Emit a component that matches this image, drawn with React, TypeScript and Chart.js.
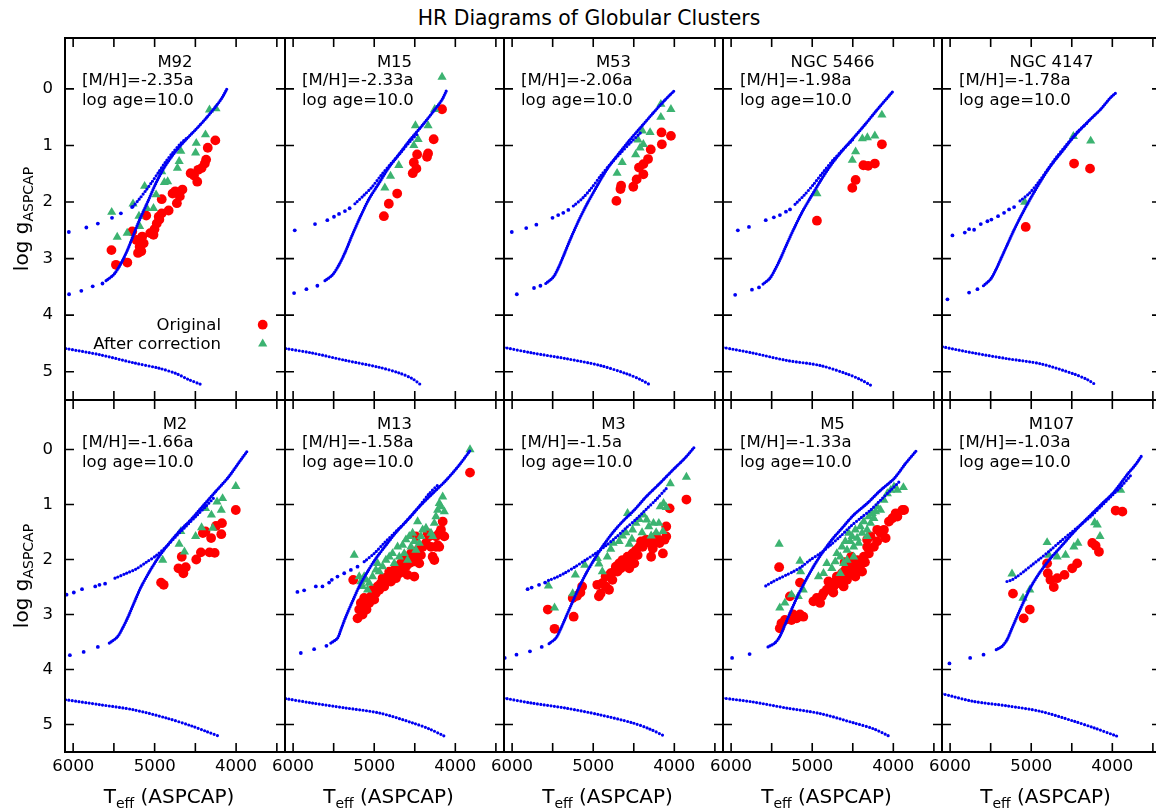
import React, { useEffect, useRef } from "react";
import { Chart, registerables } from "chart.js";

Chart.register(...registerables);

const FONT = "'DejaVu Sans', 'Liberation Sans', sans-serif";
const BLUE = "#0000f2";
const RED = "#ff0000";
const GREEN = "#3cb371";

const X_MIN = 3400;
const X_MAX = 6100;
const Y_MIN = -0.9;
const Y_MAX = 5.5;
const X_TICK_MARKS = [6000, 5500, 5000, 4500, 4000, 3500];
const X_TICK_LABELS = [6000, 5000, 4000];
const Y_TICK_MARKS = [0, 1, 2, 3, 4, 5];

const PAGE_TITLE = "HR Diagrams of Globular Clusters";
const CLUSTERS = ["M92", "M15", "M53", "NGC 5466", "NGC 4147", "M2", "M13", "M3", "M5", "M107"];
const METALLICITY = ["-2.35a", "-2.33a", "-2.06a", "-1.98a", "-1.78a", "-1.66a", "-1.58a", "-1.5a", "-1.33a", "-1.03a"];
const LOG_AGE = ["10.0", "10.0", "10.0", "10.0", "10.0", "10.0", "10.0", "10.0", "10.0", "10.0"];
const LEGEND_LABELS = ["Original", "After correction"];

type Pt = [number, number];

// ---------- M92 ----------
const M92_MS: Pt[] = [[6090, 4.59], [5670, 4.70], [5265, 4.84], [4940, 4.94], [4740, 5.03], [4580, 5.14], [4440, 5.22]];
const M92_SGB: Pt[] = [[6050, 3.63], [5900, 3.57], [5760, 3.49], [5640, 3.44]];
const M92_RGB: Pt[] = [[5596, 3.39], [5507, 3.29], [5447, 3.17], [5386, 3.01], [5325, 2.82], [5265, 2.60], [5184, 2.31], [5083, 1.99], [4982, 1.66], [4873, 1.37], [4740, 1.10], [4618, 0.90], [4497, 0.72], [4376, 0.53], [4255, 0.32], [4174, 0.16], [4113, 0.0]];
const M92_HB: Pt[] = [[6053, 2.53], [5838, 2.45], [5697, 2.38], [5523, 2.28], [5414, 2.20], [5277, 2.09]];
const M92_AGB: Pt[] = [[5265, 2.08], [5190, 1.95], [5110, 1.80], [5030, 1.64], [4950, 1.47], [4870, 1.30], [4780, 1.13], [4690, 0.98], [4600, 0.86]];
const M92_RED: Pt[] = [[5530, 2.85], [5475, 3.11], [5335, 3.07], [5275, 2.52], [5224, 2.67], [5184, 2.79], [5204, 2.90], [5164, 2.87], [5135, 2.73], [5152, 2.61], [5103, 2.24], [5055, 2.55], [5014, 2.58], [5002, 2.48], [4974, 2.38], [4942, 2.31], [4913, 2.20], [4950, 2.26], [4913, 1.95], [4828, 2.15], [4780, 1.85], [4748, 1.81], [4727, 2.02], [4691, 1.90], [4659, 1.78], [4558, 1.49], [4517, 1.53], [4477, 1.64], [4465, 1.43], [4424, 1.40], [4384, 1.32], [4368, 1.25], [4348, 1.04], [4255, 0.91]];
const M92_GREEN: Pt[] = [[5527, 2.18], [5459, 2.62], [5337, 2.55], [5265, 2.03], [5123, 1.72], [5192, 2.25], [5184, 2.43], [5095, 2.11], [5014, 2.11], [4982, 1.87], [4913, 1.46], [4881, 1.65], [4840, 1.64], [4720, 1.40], [4699, 1.28], [4679, 1.10], [4497, 1.13], [4489, 0.96], [4376, 0.81], [4327, 0.37], [4247, 0.35]];

// ---------- M15 ----------
const M15_MS: Pt[] = [[6090, 4.59], [5762, 4.67], [5353, 4.80], [4943, 4.92], [4697, 5.02], [4533, 5.12], [4418, 5.24]];
const M15_SGB: Pt[] = [[5988, 3.61], [5836, 3.54], [5701, 3.48]];
const M15_RGB: Pt[] = [[5607, 3.39], [5516, 3.29], [5434, 3.11], [5353, 2.87], [5270, 2.58], [5168, 2.25], [5066, 1.95], [4943, 1.67], [4820, 1.39], [4697, 1.16], [4553, 0.89], [4410, 0.65], [4267, 0.39], [4164, 0.19], [4103, 0.01]];
const M15_HB: Pt[] = [[5980, 2.50], [5730, 2.39], [5578, 2.32], [5496, 2.26], [5434, 2.21], [5361, 2.16], [5303, 2.11]];
const M15_AGB: Pt[] = [[5238, 2.03], [5127, 1.88], [5025, 1.73], [4922, 1.54], [4799, 1.33], [4676, 1.13], [4553, 0.92], [4451, 0.77]];
const M15_RED: Pt[] = [[4881, 2.25], [4820, 2.03], [4717, 1.85], [4525, 1.49], [4512, 1.30], [4471, 1.16], [4480, 1.41], [4349, 1.20], [4336, 1.14], [4267, 0.89], [4164, 0.36]];
const M15_GREEN: Pt[] = [[4869, 1.75], [4799, 1.54], [4697, 1.35], [4512, 1.00], [4492, 0.65], [4459, 0.89], [4336, 0.65], [4164, -0.21], [4254, 0.36]];

// ---------- M53 ----------
const M53_MS: Pt[] = [[6100, 4.57], [5743, 4.67], [5328, 4.77], [4913, 4.89], [4581, 5.04], [4415, 5.14], [4291, 5.24]];
const M53_SGB: Pt[] = [[5942, 3.63], [5730, 3.52], [5651, 3.48]];
const M53_RGB: Pt[] = [[5585, 3.44], [5494, 3.33], [5432, 3.17], [5369, 2.96], [5286, 2.67], [5183, 2.34], [5079, 2.04], [4954, 1.72], [4830, 1.42], [4705, 1.18], [4560, 0.92], [4415, 0.68], [4270, 0.44], [4125, 0.21], [4000, 0.03]];
const M53_HB: Pt[] = [[6004, 2.53], [5826, 2.46], [5701, 2.40], [5502, 2.28], [5432, 2.23], [5369, 2.19], [5307, 2.14]];
const M53_AGB: Pt[] = [[5245, 2.07], [5130, 1.93], [5020, 1.75], [4910, 1.54], [4790, 1.33], [4660, 1.13], [4540, 0.95], [4420, 0.78]];
const M53_RED: Pt[] = [[4714, 1.98], [4664, 1.77], [4656, 1.71], [4506, 1.73], [4465, 1.60], [4436, 1.39], [4382, 1.51], [4382, 1.33], [4324, 1.24], [4291, 1.07], [4158, 0.77], [4042, 0.83], [4154, 0.98]];
const M53_GREEN: Pt[] = [[4706, 1.49], [4643, 1.30], [4477, 1.16], [4448, 0.90], [4394, 0.74], [4382, 0.98], [4299, 0.77], [4166, 0.27], [4042, 0.36], [4166, 0.50], [4423, 1.04]];

// ---------- NGC 5466 ----------
const N5466_MS: Pt[] = [[6100, 4.57], [5730, 4.67], [5315, 4.80], [4900, 4.89], [4569, 5.04], [4403, 5.14], [4278, 5.24]];
const N5466_SGB: Pt[] = [[5950, 3.64], [5743, 3.55], [5656, 3.51]];
const N5466_RGB: Pt[] = [[5606, 3.45], [5523, 3.35], [5461, 3.20], [5398, 3.02], [5315, 2.75], [5232, 2.49], [5129, 2.19], [5025, 1.93], [4900, 1.63], [4776, 1.36], [4652, 1.13], [4506, 0.89], [4361, 0.65], [4195, 0.36], [4009, 0.05]];
const N5466_HB: Pt[] = [[5917, 2.50], [5780, 2.44], [5573, 2.32], [5473, 2.27], [5398, 2.23], [5324, 2.17], [5274, 2.13]];
const N5466_AGB: Pt[] = [[5212, 2.04], [5100, 1.88], [4985, 1.69], [4870, 1.48], [4750, 1.27], [4620, 1.07], [4480, 0.87]];
const N5466_RED: Pt[] = [[4942, 2.33], [4506, 1.75], [4465, 1.61], [4369, 1.35], [4311, 1.36], [4228, 1.32], [4141, 0.98]];
const N5466_GREEN: Pt[] = [[4942, 1.85], [4506, 1.26], [4465, 1.11], [4382, 0.88], [4320, 0.86], [4228, 0.83], [4141, 0.46]];

// ---------- NGC 4147 ----------
const N4147_MS: Pt[] = [[6094, 4.56], [5704, 4.67], [5294, 4.77], [4883, 4.86], [4472, 5.04], [4308, 5.14], [4205, 5.23]];
const N4147_SGB: Pt[] = [[6033, 3.72], [5766, 3.60], [5663, 3.54]];
const N4147_RGB: Pt[] = [[5589, 3.48], [5499, 3.36], [5437, 3.20], [5376, 3.01], [5294, 2.75], [5211, 2.49], [5109, 2.20], [5006, 1.93], [4883, 1.63], [4760, 1.36], [4616, 1.10], [4472, 0.84], [4308, 0.59], [4144, 0.36], [4020, 0.15], [3947, 0.06]];
const N4147_HB: Pt[] = [[5971, 2.59], [5819, 2.54], [5766, 2.48], [5704, 2.49], [5622, 2.39], [5540, 2.34], [5491, 2.31], [5409, 2.25], [5335, 2.19], [5273, 2.13], [5211, 2.09]];
const N4147_AGB: Pt[] = [[5138, 1.98], [5027, 1.85], [4920, 1.67], [4810, 1.45], [4690, 1.21], [4560, 0.98], [4430, 0.76], [4300, 0.59]];
const N4147_RED: Pt[] = [[5068, 2.44], [4472, 1.32], [4275, 1.41]];
const N4147_GREEN: Pt[] = [[5080, 2.00], [4480, 0.84], [4267, 0.92]];

// ---------- M2 ----------
const M2_MS: Pt[] = [[6093, 4.55], [5669, 4.64], [5265, 4.73], [4861, 4.88], [4538, 5.03], [4376, 5.12], [4194, 5.22]];
const M2_SGB: Pt[] = [[6040, 3.74], [5871, 3.68], [5697, 3.59]];
const M2_RGB: Pt[] = [[5556, 3.52], [5459, 3.41], [5394, 3.25], [5325, 3.04], [5245, 2.76], [5164, 2.49], [5063, 2.22], [4962, 1.98], [4841, 1.74], [4699, 1.49], [4558, 1.28], [4416, 1.04], [4255, 0.77], [4093, 0.50], [3972, 0.25], [3859, 0.02]];
const M2_HB: Pt[] = [[6081, 2.64], [5992, 2.60], [5891, 2.54], [5729, 2.49], [5677, 2.46], [5608, 2.44]];
const M2_AGB: Pt[] = [[5487, 2.34], [5346, 2.25], [5224, 2.17], [5103, 2.05], [4982, 1.93], [4861, 1.77], [4739, 1.58], [4618, 1.40], [4497, 1.22], [4376, 1.04], [4255, 0.85]];
const M2_RED: Pt[] = [[4921, 2.42], [4889, 2.46], [4667, 1.95], [4707, 2.16], [4647, 2.25], [4618, 2.14], [4489, 2.00], [4432, 1.87], [4408, 1.52], [4376, 1.49], [4307, 1.61], [4327, 1.87], [4263, 1.88], [4247, 1.39], [4182, 1.54], [4174, 1.34], [4004, 1.10]];
const M2_GREEN: Pt[] = [[4901, 2.01], [4679, 1.49], [4699, 1.72], [4634, 1.86], [4497, 1.58], [4424, 1.42], [4376, 1.07], [4303, 1.19], [4287, 1.43], [4234, 0.95], [4182, 1.10], [4166, 0.89], [4004, 0.67]];

// ---------- M13 ----------
const M13_MS: Pt[] = [[6091, 4.53], [5761, 4.61], [5350, 4.70], [4938, 4.79], [4527, 4.97], [4321, 5.08], [4136, 5.21]];
const M13_SGB: Pt[] = [[5905, 3.70], [5741, 3.63], [5589, 3.57]];
const M13_RGB: Pt[] = [[5535, 3.52], [5453, 3.43], [5412, 3.28], [5350, 3.04], [5268, 2.76], [5185, 2.49], [5082, 2.22], [4979, 1.98], [4856, 1.74], [4733, 1.51], [4589, 1.28], [4445, 1.04], [4280, 0.80], [4115, 0.56], [3951, 0.28], [3819, 0.02]];
const M13_HB: Pt[] = [[5947, 2.59], [5864, 2.56], [5720, 2.49], [5638, 2.49], [5556, 2.42], [5523, 2.37], [5453, 2.31], [5370, 2.25], [5288, 2.19], [5206, 2.13]];
const M13_AGB: Pt[] = [[5124, 2.04], [5000, 1.89], [4877, 1.70], [4753, 1.52], [4609, 1.31], [4465, 1.07], [4321, 0.80], [4198, 0.62]];
const M13_RED: Pt[] = [[5259, 2.37], [5206, 3.07], [5185, 2.91], [5165, 2.79], [5144, 3.00], [5124, 2.85], [5124, 2.70], [5095, 2.91], [5062, 2.79], [5041, 2.67], [5021, 2.55], [5000, 2.73], [4979, 2.61], [4959, 2.49], [4938, 2.55], [4918, 2.43], [4897, 2.34], [4877, 2.49], [4856, 2.40], [4835, 2.31], [4815, 2.22], [4794, 2.40], [4774, 2.28], [4753, 2.19], [4733, 2.34], [4712, 2.13], [4691, 2.25], [4671, 2.07], [4650, 2.22], [4630, 1.98], [4609, 2.13], [4589, 2.28], [4568, 2.07], [4547, 1.89], [4527, 2.04], [4506, 2.31], [4486, 1.95], [4465, 1.83], [4445, 2.07], [4424, 1.92], [4403, 1.77], [4362, 1.70], [4321, 1.58], [4300, 1.77], [4280, 1.95], [4259, 2.01], [4239, 1.58], [4218, 1.74], [4198, 1.52], [4177, 1.46], [4156, 1.31], [4136, 1.58], [4198, 1.77], [4239, 1.77], [3819, 0.42], [4486, 1.58], [4342, 1.52]];
const M13_GREEN: Pt[] = [[5247, 1.92], [5185, 2.31], [5165, 2.40], [5144, 2.49], [5124, 2.31], [5103, 2.37], [5082, 2.55], [5062, 2.43], [5021, 2.31], [4979, 2.19], [4959, 2.07], [4938, 2.22], [4897, 2.13], [4856, 2.01], [4815, 1.95], [4774, 1.89], [4753, 2.07], [4712, 1.77], [4691, 1.95], [4650, 1.74], [4630, 1.89], [4609, 1.64], [4568, 1.58], [4547, 1.77], [4527, 1.52], [4506, 1.67], [4486, 1.83], [4445, 1.70], [4424, 1.58], [4403, 1.46], [4362, 1.43], [4300, 1.52], [4280, 1.58], [4259, 1.34], [4239, 1.22], [4218, 1.10], [4198, 0.98], [4177, 1.04], [4156, 0.86], [4136, 1.13], [3819, 0.0], [4589, 2.01], [4465, 1.31]];

// ---------- M3 ----------
const M3_MS: Pt[] = [[6100, 4.52], [5759, 4.61], [5344, 4.70], [4930, 4.82], [4515, 4.97], [4307, 5.08], [4120, 5.21]];
const M3_SGB: Pt[] = [[6091, 3.79], [5946, 3.73], [5780, 3.67], [5635, 3.59]];
const M3_RGB: Pt[] = [[5544, 3.53], [5461, 3.43], [5407, 3.28], [5344, 3.07], [5261, 2.79], [5179, 2.52], [5087, 2.25], [4992, 2.01], [4888, 1.77], [4764, 1.52], [4639, 1.31], [4494, 1.10], [4349, 0.86], [4183, 0.62], [4017, 0.37], [3872, 0.16], [3755, -0.04]];
const M3_HB: Pt[] = [[5809, 2.54], [5759, 2.51], [5668, 2.46], [5593, 2.42]];
const M3_AGB: Pt[] = [[5552, 2.38], [5448, 2.32], [5344, 2.24], [5220, 2.13], [5096, 2.01], [4971, 1.89], [4847, 1.75], [4722, 1.60], [4598, 1.43], [4473, 1.27], [4349, 1.09], [4224, 0.91], [4100, 0.71]];
const M3_RED: Pt[] = [[5560, 2.91], [5477, 3.26], [5241, 3.04], [5253, 2.70], [5199, 2.66], [5158, 2.60], [5137, 2.49], [4950, 2.46], [4909, 2.62], [4888, 2.43], [4847, 2.49], [4805, 2.55], [4847, 2.31], [4784, 2.25], [4764, 2.37], [4743, 2.22], [4722, 2.13], [4701, 2.22], [4681, 2.07], [4660, 2.16], [4639, 2.01], [4598, 2.07], [4577, 1.95], [4556, 2.16], [4535, 1.98], [4515, 1.89], [4494, 2.07], [4473, 1.83], [4452, 1.92], [4432, 1.77], [4411, 1.67], [4390, 1.77], [4349, 1.64], [4307, 1.70], [4286, 1.95], [4266, 1.80], [4245, 1.67], [4224, 1.58], [4183, 1.70], [4141, 1.89], [4121, 1.64], [4100, 1.58], [4100, 1.40], [4058, 1.07], [3851, 0.91], [4930, 2.67]];
const M3_GREEN: Pt[] = [[5552, 2.48], [5477, 2.88], [5253, 2.62], [5220, 2.28], [5104, 2.10], [4950, 1.98], [4930, 2.08], [4888, 2.22], [4826, 1.95], [4784, 1.81], [4755, 1.70], [4681, 1.67], [4639, 1.57], [4598, 1.51], [4577, 1.16], [4556, 1.72], [4523, 1.63], [4515, 1.46], [4473, 1.34], [4432, 1.27], [4398, 1.51], [4382, 1.19], [4340, 1.28], [4315, 1.40], [4286, 1.57], [4257, 1.34], [4224, 1.51], [4191, 1.34], [4174, 1.04], [4133, 0.98], [4141, 1.49], [4100, 1.05], [4050, 0.62], [3851, 0.50]];

// ---------- M5 ----------
const M5_MS: Pt[] = [[6100, 4.52], [5731, 4.59], [5317, 4.70], [4903, 4.80], [4489, 4.97], [4240, 5.08], [4054, 5.21]];
const M5_SGB: Pt[] = [[5988, 3.79], [5772, 3.72]];
const M5_RGB: Pt[] = [[5545, 3.59], [5462, 3.52], [5400, 3.40], [5337, 3.19], [5255, 2.91], [5172, 2.64], [5077, 2.37], [4985, 2.13], [4882, 1.89], [4758, 1.64], [4633, 1.43], [4489, 1.19], [4323, 0.98], [4157, 0.74], [3992, 0.53], [3847, 0.25], [3710, 0.01]];
const M5_HB: Pt[] = [];
const M5_AGB: Pt[] = [[5573, 2.48], [5482, 2.40], [5400, 2.34], [5317, 2.28], [5234, 2.22], [5130, 2.13], [5027, 2.01], [4903, 1.89], [4778, 1.74], [4654, 1.58], [4530, 1.40], [4406, 1.25], [4281, 1.10], [4157, 0.92], [4033, 0.74], [3909, 0.56]];
const M5_RED: Pt[] = [[5408, 2.14], [5151, 2.42], [5275, 2.67], [5400, 3.25], [5379, 3.16], [5337, 3.10], [5255, 3.10], [5234, 3.00], [5192, 3.07], [5151, 3.00], [5110, 3.04], [4985, 2.76], [4944, 2.70], [4903, 2.79], [4882, 2.67], [4861, 2.61], [4820, 2.55], [4778, 2.46], [4737, 2.49], [4716, 2.40], [4696, 2.31], [4675, 2.43], [4654, 2.34], [4633, 2.25], [4613, 2.49], [4592, 2.19], [4571, 2.37], [4551, 2.28], [4530, 2.13], [4509, 2.22], [4489, 2.07], [4468, 2.31], [4447, 2.01], [4426, 2.19], [4406, 2.10], [4385, 2.22], [4364, 1.95], [4323, 1.77], [4302, 1.89], [4281, 1.58], [4240, 1.77], [4199, 1.67], [4157, 1.52], [4116, 1.46], [4095, 1.61], [4054, 1.31], [4012, 1.25], [3971, 1.16], [3950, 1.22], [3888, 1.10], [3867, 1.10], [4199, 1.46], [4323, 1.64], [4740, 2.60], [4800, 2.40], [4600, 2.05], [4520, 1.95], [4350, 2.05], [4420, 2.02]];
const M5_GREEN: Pt[] = [[5408, 1.72], [5151, 2.03], [5143, 2.22], [5255, 2.64], [5400, 2.88], [5337, 2.79], [5172, 2.67], [5110, 2.55], [4923, 2.31], [4861, 2.25], [4820, 2.07], [4758, 2.16], [4716, 2.04], [4696, 1.89], [4654, 1.95], [4633, 1.77], [4613, 2.07], [4592, 1.67], [4571, 1.83], [4551, 1.52], [4530, 1.67], [4509, 1.58], [4489, 1.77], [4468, 1.46], [4447, 1.61], [4426, 1.70], [4406, 1.40], [4385, 1.52], [4364, 1.31], [4323, 1.46], [4302, 1.22], [4281, 1.34], [4261, 1.16], [4240, 1.25], [4219, 1.13], [4199, 1.04], [4157, 1.10], [4116, 0.92], [4074, 0.80], [4033, 0.74], [3992, 0.68], [3950, 0.74], [3876, 0.69], [4489, 1.95], [4571, 2.01], [4323, 1.58], [4654, 2.25]];

// ---------- M107 ----------
const M107_MS: Pt[] = [[6100, 4.44], [5711, 4.58], [5299, 4.66], [4887, 4.76], [4474, 4.94], [4227, 5.06], [3946, 5.21]];
const M107_SGB: Pt[] = [[6008, 3.89], [5753, 3.79], [5588, 3.73]];
const M107_RGB: Pt[] = [[5431, 3.64], [5361, 3.58], [5299, 3.46], [5237, 3.25], [5155, 2.97], [5072, 2.70], [4990, 2.46], [4887, 2.22], [4763, 1.98], [4618, 1.74], [4474, 1.50], [4309, 1.25], [4144, 1.01], [3979, 0.77], [3814, 0.45], [3711, 0.27], [3637, 0.11]];
const M107_HB: Pt[] = [];
const M107_AGB: Pt[] = [[5299, 2.40], [5237, 2.37], [5175, 2.31], [5093, 2.22], [4990, 2.10], [4887, 1.98], [4763, 1.83], [4639, 1.67], [4515, 1.52], [4392, 1.37], [4268, 1.22], [4144, 1.04], [4021, 0.86], [3897, 0.68], [3773, 0.47]];
const M107_RED: Pt[] = [[5225, 2.62], [5093, 3.07], [5018, 2.91], [4804, 2.07], [4796, 2.25], [4763, 2.37], [4722, 2.50], [4680, 2.34], [4590, 2.28], [4495, 2.16], [4433, 2.07], [4247, 1.70], [4206, 1.75], [4165, 1.86], [3959, 1.11], [3876, 1.13]];
const M107_GREEN: Pt[] = [[5237, 2.26], [5101, 2.70], [5018, 2.55], [4804, 1.69], [4783, 1.92], [4680, 1.95], [4577, 1.92], [4474, 1.77], [4425, 1.70], [4218, 1.33], [4186, 1.37], [4152, 1.58], [3897, 0.74]];

interface PanelData { ms: Pt[]; sgb: Pt[]; rgb: Pt[]; hb: Pt[]; agb: Pt[]; red: Pt[]; green: Pt[]; }

const PANEL_DATA: PanelData[] = [
  { ms: M92_MS, sgb: M92_SGB, rgb: M92_RGB, hb: M92_HB, agb: M92_AGB, red: M92_RED, green: M92_GREEN },
  { ms: M15_MS, sgb: M15_SGB, rgb: M15_RGB, hb: M15_HB, agb: M15_AGB, red: M15_RED, green: M15_GREEN },
  { ms: M53_MS, sgb: M53_SGB, rgb: M53_RGB, hb: M53_HB, agb: M53_AGB, red: M53_RED, green: M53_GREEN },
  { ms: N5466_MS, sgb: N5466_SGB, rgb: N5466_RGB, hb: N5466_HB, agb: N5466_AGB, red: N5466_RED, green: N5466_GREEN },
  { ms: N4147_MS, sgb: N4147_SGB, rgb: N4147_RGB, hb: N4147_HB, agb: N4147_AGB, red: N4147_RED, green: N4147_GREEN },
  { ms: M2_MS, sgb: M2_SGB, rgb: M2_RGB, hb: M2_HB, agb: M2_AGB, red: M2_RED, green: M2_GREEN },
  { ms: M13_MS, sgb: M13_SGB, rgb: M13_RGB, hb: M13_HB, agb: M13_AGB, red: M13_RED, green: M13_GREEN },
  { ms: M3_MS, sgb: M3_SGB, rgb: M3_RGB, hb: M3_HB, agb: M3_AGB, red: M3_RED, green: M3_GREEN },
  { ms: M5_MS, sgb: M5_SGB, rgb: M5_RGB, hb: M5_HB, agb: M5_AGB, red: M5_RED, green: M5_GREEN },
  { ms: M107_MS, sgb: M107_SGB, rgb: M107_RGB, hb: M107_HB, agb: M107_AGB, red: M107_RED, green: M107_GREEN },
];

// layout (page pixels)
const COL_LEFT = [65, 285, 504, 723, 942];
const COL_WIDTH = [220, 219, 219, 219, 219];
const ROW_TOP = [38, 400];
const ROW_HEIGHT = [362, 352];
const TICK_LEN = 9;

const toXY = (a: Pt[]) => a.map(([x, y]) => ({ x, y }));

function drawTriangle(ctx: CanvasRenderingContext2D, x: number, y: number, r: number) {
  ctx.beginPath();
  for (let k = 0; k < 3; k++) {
    const ang = -Math.PI / 2 + (k * 2 * Math.PI) / 3;
    const px = x + Math.cos(ang) * r;
    const py = y + Math.sin(ang) * r;
    if (k === 0) ctx.moveTo(px, py);
    else ctx.lineTo(px, py);
  }
  ctx.closePath();
  ctx.fill();
}

function Panel({ idx }: { idx: number }) {
  const ref = useRef<HTMLCanvasElement>(null);
  const row = idx < 5 ? 0 : 1;
  const col = idx % 5;
  const padL = col === 0 ? 65 : 30;
  const padT = 30;
  const padR = 30;
  const padB = row === 1 ? 62 : 30;
  const plotL = COL_LEFT[col];
  const plotT = ROW_TOP[row];
  const w = COL_WIDTH[col];
  const h = ROW_HEIGHT[row];
  const cw = padL + w + padR;
  const ch = padT + h + padB;

  useEffect(() => {
    const d = PANEL_DATA[idx];
    const annotate = {
      id: "annotate" + idx,
      afterDatasetsDraw(chart: any) {
        const { ctx, chartArea: a } = chart;
        const xs = chart.scales.x;
        const ys = chart.scales.y;
        ctx.save();
        ctx.strokeStyle = "#000";
        ctx.lineWidth = 2;
        ctx.strokeRect(a.left, a.top, a.right - a.left, a.bottom - a.top);
        ctx.lineWidth = 1.6;
        ctx.beginPath();
        for (const v of X_TICK_MARKS) {
          const px = xs.getPixelForValue(v);
          ctx.moveTo(px, a.bottom);
          ctx.lineTo(px, a.bottom - TICK_LEN);
          ctx.moveTo(px, a.top);
          ctx.lineTo(px, a.top + TICK_LEN);
        }
        for (const v of Y_TICK_MARKS) {
          const py = ys.getPixelForValue(v);
          ctx.moveTo(a.left, py);
          ctx.lineTo(a.left + TICK_LEN, py);
          ctx.moveTo(a.right, py);
          ctx.lineTo(a.right - TICK_LEN, py);
        }
        ctx.stroke();

        ctx.fillStyle = "#000";
        ctx.font = `16.5px ${FONT}`;
        ctx.textBaseline = "alphabetic";
        ctx.textAlign = "center";
        ctx.fillText(CLUSTERS[idx], (a.left + a.right) / 2, a.top + 28.5);
        ctx.textAlign = "left";
        ctx.fillText(`[M/H]=${METALLICITY[idx]}`, a.left + 17, a.top + 46.5);
        ctx.fillText(`log age=${LOG_AGE[idx]}`, a.left + 17, a.top + 67);

        if (idx === 0) {
          ctx.textAlign = "right";
          ctx.fillText(LEGEND_LABELS[0], a.left + 156, a.top + 291.7);
          ctx.fillText(LEGEND_LABELS[1], a.left + 156, a.top + 311);
          ctx.fillStyle = RED;
          ctx.beginPath();
          ctx.arc(a.left + 197.7, a.top + 286.7, 4.9, 0, Math.PI * 2);
          ctx.fill();
          ctx.fillStyle = GREEN;
          drawTriangle(ctx, a.left + 197.7, a.top + 305.8, 5.3);
        }
        ctx.restore();
      },
    };

    const chart = new Chart(ref.current as HTMLCanvasElement, {
      type: "scatter",
      data: {
        datasets: [
          { data: toXY(d.rgb), showLine: true, borderColor: BLUE, borderWidth: 3.2, borderDash: [0, 2.2], borderCapStyle: "round", pointRadius: 0, tension: 0.3 } as any,
          { data: toXY(d.agb), showLine: true, borderColor: BLUE, borderWidth: 3.2, borderDash: [0, 3.2], borderCapStyle: "round", pointRadius: 0, tension: 0.3 } as any,
          { data: toXY(d.ms), showLine: true, borderColor: BLUE, borderWidth: 3.2, borderDash: [0, 3.4], borderCapStyle: "round", pointRadius: 0, tension: 0.3 } as any,
          { data: toXY(d.sgb), pointRadius: 1.9, backgroundColor: BLUE, borderWidth: 0 },
          { data: toXY(d.hb), pointRadius: 1.9, backgroundColor: BLUE, borderWidth: 0 },
          { data: toXY(d.green), pointStyle: "triangle", pointRadius: 5.3, backgroundColor: GREEN, borderWidth: 0 },
          { data: toXY(d.red), pointStyle: "circle", pointRadius: 4.9, backgroundColor: RED, borderWidth: 0 },
        ],
      },
      options: {
        responsive: false,
        maintainAspectRatio: false,
        animation: false,
        events: [],
        layout: {
          padding: { left: col === 0 ? 0 : padL, right: padR, top: padT, bottom: row === 1 ? 0 : padB },
        },
        plugins: { legend: { display: false }, tooltip: { enabled: false }, title: { display: false } },
        scales: {
          x: {
            type: "linear",
            min: X_MIN,
            max: X_MAX,
            reverse: true,
            display: row === 1,
            grid: { display: false, drawTicks: false },
            border: { display: false },
            ticks: { autoSkip: false, maxRotation: 0, padding: 5, color: "#000", font: { family: FONT, size: 16.5 }, callback: (v: any) => String(v) },
            afterBuildTicks: (s: any) => { s.ticks = X_TICK_LABELS.map((v) => ({ value: v })); },
            afterFit: (s: any) => { if (row === 1) s.height = padB; },
          },
          y: {
            type: "linear",
            min: Y_MIN,
            max: Y_MAX,
            reverse: true,
            display: col === 0,
            grid: { display: false, drawTicks: false },
            border: { display: false },
            ticks: { autoSkip: false, padding: 12, color: "#000", font: { family: FONT, size: 16.5 }, callback: (v: any) => String(v) },
            afterBuildTicks: (s: any) => { s.ticks = Y_TICK_MARKS.map((v) => ({ value: v })); },
            afterFit: (s: any) => { if (col === 0) s.width = 65; },
          },
        },
      } as any,
      plugins: [annotate],
    });
    return () => chart.destroy();
  }, [idx]);

  return (
    <canvas
      ref={ref}
      width={cw}
      height={ch}
      style={{ position: "absolute", left: plotL - padL, top: plotT - padT, width: cw, height: ch }}
    />
  );
}

const Y_TITLE_MAIN = "log g";
const Y_TITLE_SUB = "ASPCAP";
const X_TITLE_MAIN = "T";
const X_TITLE_SUB = "eff";
const X_TITLE_REST = " (ASPCAP)";

export default function App() {
  useEffect(() => {
    document.body.style.margin = "0";
  }, []);
  return (
    <div style={{ position: "fixed", left: 0, top: 0, width: 1156, height: 812, background: "#fff", overflow: "hidden", fontFamily: FONT, color: "#000" }}>
      <div style={{ position: "absolute", left: 589, top: 18, transform: "translate(-50%,-50%)", fontSize: 20.4, lineHeight: 1, whiteSpace: "nowrap" }}>
        {PAGE_TITLE}
      </div>
      {PANEL_DATA.map((_, i) => (
        <Panel key={i} idx={i} />
      ))}
      {[0, 1].map((r) => (
        <div
          key={"yt" + r}
          style={{ position: "absolute", left: 21, top: ROW_TOP[r] + ROW_HEIGHT[r] / 2, transform: "translate(-50%,-50%) rotate(-90deg)", fontSize: 20, lineHeight: 1, whiteSpace: "nowrap" }}
        >
          {Y_TITLE_MAIN}
          <span style={{ fontSize: 14, position: "relative", top: 5 }}>{Y_TITLE_SUB}</span>
        </div>
      ))}
      {[0, 1, 2, 3, 4].map((c) => (
        <div
          key={"xt" + c}
          style={{ position: "absolute", left: COL_LEFT[c] + COL_WIDTH[c] / 2 - 6, top: 796, transform: "translate(-50%,-50%)", fontSize: 20, lineHeight: 1, whiteSpace: "pre" }}
        >
          {X_TITLE_MAIN}
          <span style={{ fontSize: 14, position: "relative", top: 5 }}>{X_TITLE_SUB}</span>
          {X_TITLE_REST}
        </div>
      ))}
    </div>
  );
}
